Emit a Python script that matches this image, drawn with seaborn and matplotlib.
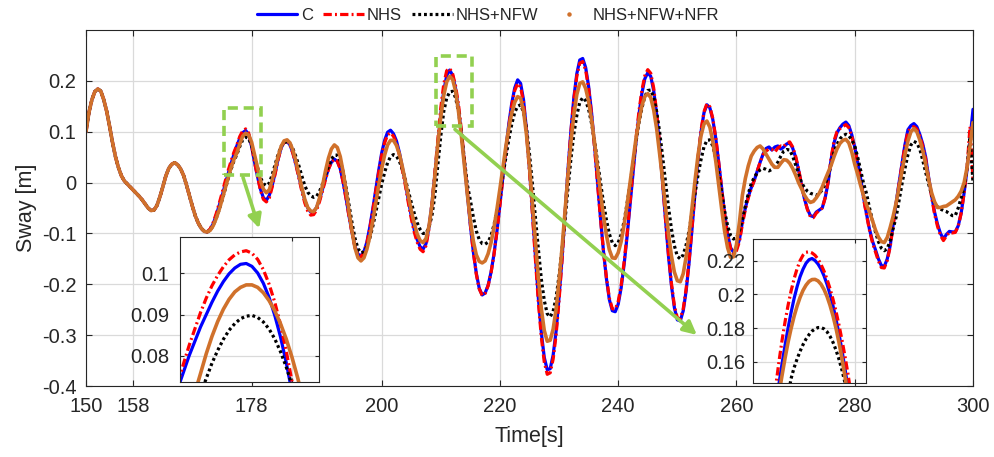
import numpy as np
import matplotlib
matplotlib.use("Agg")
import matplotlib.pyplot as plt
import seaborn as sns
from matplotlib.lines import Line2D
from matplotlib.patches import Rectangle

# ---------------- data ----------------
time_s = np.arange(150.0, 300.25, 0.5)   # sampling instants, 0.5 s

sway_c = [
    0.100, 0.138, 0.163, 0.179, 0.184, 0.180, 0.163, 0.140, 0.110, 0.078,
    0.050, 0.029, 0.013, 0.003, -0.003, -0.009, -0.015, -0.021, -0.027, -0.034,
    -0.042, -0.050, -0.055, -0.054, -0.045, -0.028, -0.008, 0.013, 0.028, 0.036,
    0.039, 0.035, 0.027, 0.014, -0.005, -0.026, -0.047, -0.066, -0.080, -0.090,
    -0.096, -0.097, -0.092, -0.081, -0.065, -0.046, -0.027, -0.005, 0.016, 0.036,
    0.055, 0.072, 0.087, 0.098, 0.1024, 0.0944, 0.0713, 0.0405, 0.012, -0.013,
    -0.030, -0.035, -0.025, -0.005, 0.020, 0.047, 0.068, 0.080, 0.081, 0.074,
    0.058, 0.036, 0.012, -0.013, -0.035, -0.050, -0.058, -0.057, -0.049, -0.033,
    -0.013, 0.008, 0.027, 0.040, 0.046, 0.042, 0.027, 0.000, -0.032, -0.067,
    -0.099, -0.126, -0.141, -0.144, -0.136, -0.117, -0.087, -0.052, -0.014, 0.024,
    0.058, 0.083, 0.099, 0.103, 0.096, 0.082, 0.059, 0.030, 0.000, -0.034,
    -0.065, -0.092, -0.112, -0.126, -0.131, -0.120, -0.088, -0.042, 0.017, 0.078,
    0.135, 0.180, 0.2105, 0.2213, 0.211, 0.185, 0.144, 0.095, 0.037, -0.024,
    -0.084, -0.136, -0.178, -0.208, -0.221, -0.217, -0.202, -0.176, -0.140, -0.095,
    -0.043, 0.012, 0.066, 0.115, 0.156, 0.186, 0.202, 0.195, 0.162, 0.102,
    0.026, -0.057, -0.144, -0.227, -0.295, -0.344, -0.368, -0.366, -0.339, -0.292,
    -0.225, -0.149, -0.063, 0.024, 0.101, 0.167, 0.214, 0.241, 0.244, 0.226,
    0.189, 0.137, 0.072, 0.002, -0.069, -0.134, -0.188, -0.230, -0.252, -0.254,
    -0.239, -0.207, -0.161, -0.106, -0.044, 0.019, 0.079, 0.133, 0.175, 0.204,
    0.216, 0.209, 0.181, 0.134, 0.072, 0.000, -0.073, -0.144, -0.202, -0.246,
    -0.270, -0.272, -0.252, -0.212, -0.156, -0.089, -0.019, 0.046, 0.099, 0.137,
    0.153, 0.147, 0.124, 0.087, 0.039, -0.012, -0.062, -0.101, -0.128, -0.137,
    -0.130, -0.112, -0.078, -0.050, -0.028, -0.010, 0.004, 0.022, 0.040, 0.056,
    0.067, 0.070, 0.064, 0.070, 0.072, 0.066, 0.070, 0.076, 0.078, 0.068,
    0.050, 0.025, -0.005, -0.032, -0.052, -0.065, -0.067, -0.058, -0.054, -0.050,
    -0.030, 0.000, 0.045, 0.078, 0.098, 0.108, 0.115, 0.119, 0.112, 0.094,
    0.070, 0.040, 0.008, -0.030, -0.062, -0.092, -0.115, -0.132, -0.150, -0.163,
    -0.165, -0.150, -0.124, -0.082, -0.040, 0.000, 0.038, 0.075, 0.104, 0.112,
    0.116, 0.110, 0.095, 0.076, 0.050, 0.010, -0.025, -0.058, -0.082, -0.100,
    -0.111, -0.102, -0.096, -0.097, -0.097, -0.085, -0.060, -0.020, 0.026, 0.085,
    0.144,
]

sway_nhs = [
    0.100, 0.138, 0.163, 0.179, 0.184, 0.180, 0.163, 0.140, 0.110, 0.078,
    0.050, 0.029, 0.013, 0.003, -0.003, -0.009, -0.015, -0.021, -0.027, -0.034,
    -0.042, -0.050, -0.055, -0.054, -0.045, -0.028, -0.008, 0.013, 0.028, 0.036,
    0.039, 0.035, 0.027, 0.014, -0.005, -0.026, -0.047, -0.066, -0.080, -0.090,
    -0.096, -0.097, -0.091, -0.079, -0.062, -0.042, -0.021, 0.001, 0.022, 0.041,
    0.059, 0.0735, 0.0905, 0.1016, 0.1055, 0.0974, 0.0739, 0.0405, 0.013, -0.015,
    -0.033, -0.038, -0.030, -0.008, 0.018, 0.046, 0.068, 0.080, 0.081, 0.074,
    0.057, 0.035, 0.009, -0.017, -0.040, -0.056, -0.064, -0.063, -0.054, -0.037,
    -0.016, 0.006, 0.026, 0.040, 0.046, 0.042, 0.027, 0.000, -0.033, -0.068,
    -0.100, -0.128, -0.143, -0.146, -0.138, -0.119, -0.090, -0.055, -0.018, 0.020,
    0.053, 0.078, 0.094, 0.098, 0.091, 0.077, 0.054, 0.025, -0.005, -0.039,
    -0.070, -0.097, -0.117, -0.131, -0.136, -0.124, -0.091, -0.042, 0.020, 0.084,
    0.147, 0.1935, 0.220, 0.2246, 0.2138, 0.1898, 0.1526, 0.101, 0.043, -0.020,
    -0.082, -0.136, -0.180, -0.209, -0.222, -0.218, -0.203, -0.177, -0.141, -0.096,
    -0.044, 0.010, 0.063, 0.111, 0.151, 0.181, 0.195, 0.188, 0.156, 0.097,
    0.021, -0.063, -0.151, -0.235, -0.304, -0.353, -0.377, -0.374, -0.347, -0.299,
    -0.231, -0.153, -0.066, 0.022, 0.099, 0.163, 0.209, 0.235, 0.238, 0.221,
    0.185, 0.133, 0.069, 0.000, -0.070, -0.133, -0.186, -0.227, -0.248, -0.249,
    -0.234, -0.202, -0.156, -0.101, -0.039, 0.025, 0.085, 0.139, 0.181, 0.210,
    0.222, 0.215, 0.186, 0.139, 0.076, 0.003, -0.071, -0.140, -0.198, -0.242,
    -0.266, -0.268, -0.248, -0.208, -0.152, -0.086, -0.016, 0.049, 0.102, 0.139,
    0.155, 0.149, 0.126, 0.088, 0.039, -0.013, -0.063, -0.103, -0.130, -0.140,
    -0.134, -0.116, -0.082, -0.053, -0.030, -0.012, 0.004, 0.022, 0.040, 0.055,
    0.062, 0.066, 0.065, 0.060, 0.068, 0.072, 0.071, 0.078, 0.080, 0.070,
    0.052, 0.027, -0.004, -0.032, -0.053, -0.067, -0.069, -0.060, -0.055, -0.050,
    -0.030, 0.002, 0.048, 0.082, 0.100, 0.106, 0.110, 0.114, 0.108, 0.091,
    0.068, 0.038, 0.006, -0.032, -0.064, -0.094, -0.118, -0.136, -0.154, -0.167,
    -0.168, -0.153, -0.126, -0.084, -0.042, -0.002, 0.036, 0.072, 0.100, 0.107,
    0.110, 0.105, 0.091, 0.072, 0.046, 0.007, -0.028, -0.062, -0.086, -0.104,
    -0.114, -0.105, -0.098, -0.099, -0.098, -0.086, -0.060, -0.020, 0.030, 0.110,
    0.005,
]

sway_nhs_nfw = [
    0.100, 0.138, 0.163, 0.179, 0.184, 0.180, 0.163, 0.140, 0.110, 0.078,
    0.050, 0.029, 0.013, 0.003, -0.003, -0.009, -0.015, -0.021, -0.027, -0.034,
    -0.042, -0.050, -0.055, -0.054, -0.045, -0.028, -0.008, 0.013, 0.028, 0.036,
    0.039, 0.035, 0.027, 0.014, -0.005, -0.026, -0.047, -0.066, -0.080, -0.090,
    -0.096, -0.097, -0.094, -0.085, -0.071, -0.054, -0.035, -0.015, 0.006, 0.025,
    0.042, 0.055, 0.0708, 0.084, 0.0896, 0.0865, 0.073, 0.050, 0.030, 0.010,
    -0.002, -0.006, -0.001, 0.016, 0.036, 0.056, 0.071, 0.079, 0.080, 0.076,
    0.066, 0.051, 0.033, 0.013, -0.006, -0.019, -0.026, -0.029, -0.027, -0.017,
    -0.003, 0.015, 0.031, 0.046, 0.054, 0.054, 0.043, 0.020, -0.011, -0.046,
    -0.080, -0.110, -0.130, -0.138, -0.136, -0.126, -0.109, -0.086, -0.059, -0.031,
    -0.003, 0.020, 0.039, 0.051, 0.055, 0.052, 0.042, 0.026, 0.006, -0.016,
    -0.039, -0.060, -0.079, -0.092, -0.100, -0.100, -0.088, -0.065, -0.025, 0.035,
    0.092, 0.140, 0.1662, 0.1782, 0.1795, 0.1669, 0.1392, 0.095, 0.043, -0.005,
    -0.035, -0.068, -0.095, -0.112, -0.120, -0.121, -0.117, -0.104, -0.083, -0.055,
    -0.022, 0.014, 0.050, 0.085, 0.115, 0.138, 0.150, 0.153, 0.138, 0.106,
    0.056, -0.004, -0.069, -0.131, -0.190, -0.232, -0.258, -0.264, -0.253, -0.226,
    -0.183, -0.131, -0.074, -0.012, 0.046, 0.096, 0.132, 0.158, 0.167, 0.161,
    0.144, 0.116, 0.082, 0.042, 0.001, -0.039, -0.073, -0.101, -0.118, -0.124,
    -0.118, -0.102, -0.076, -0.041, -0.004, 0.038, 0.079, 0.117, 0.146, 0.169,
    0.181, 0.182, 0.168, 0.139, 0.100, 0.052, 0.001, -0.048, -0.091, -0.124,
    -0.145, -0.150, -0.142, -0.122, -0.094, -0.058, -0.021, 0.015, 0.045, 0.070,
    0.083, 0.084, 0.072, 0.048, 0.016, -0.020, -0.056, -0.085, -0.104, -0.111,
    -0.108, -0.095, -0.072, -0.046, -0.022, -0.002, 0.010, 0.019, 0.025, 0.028,
    0.026, 0.023, 0.026, 0.032, 0.040, 0.052, 0.062, 0.065, 0.064, 0.052,
    0.035, 0.017, 0.000, -0.010, -0.017, -0.021, -0.023, -0.025, -0.022, -0.014,
    -0.003, 0.012, 0.035, 0.060, 0.075, 0.086, 0.092, 0.095, 0.092, 0.084,
    0.072, 0.050, 0.024, -0.002, -0.022, -0.050, -0.075, -0.097, -0.116, -0.129,
    -0.134, -0.130, -0.114, -0.090, -0.068, -0.035, -0.002, 0.028, 0.055, 0.074,
    0.081, 0.078, 0.066, 0.044, 0.020, -0.003, -0.024, -0.040, -0.048, -0.052,
    -0.055, -0.057, -0.061, -0.065, -0.065, -0.050, -0.030, -0.010, 0.030, 0.090,
    0.000,
]

sway_nhs_nfw_nfr = [
    0.100, 0.138, 0.163, 0.179, 0.184, 0.180, 0.163, 0.140, 0.110, 0.078,
    0.050, 0.029, 0.013, 0.003, -0.003, -0.009, -0.015, -0.021, -0.027, -0.034,
    -0.042, -0.050, -0.055, -0.054, -0.045, -0.028, -0.008, 0.013, 0.028, 0.036,
    0.039, 0.035, 0.027, 0.014, -0.005, -0.026, -0.047, -0.066, -0.080, -0.090,
    -0.096, -0.097, -0.094, -0.085, -0.071, -0.054, -0.034, -0.013, 0.008, 0.028,
    0.045, 0.058, 0.0757, 0.0913, 0.0972, 0.0934, 0.0797, 0.055, 0.030, 0.004,
    -0.013, -0.020, -0.014, 0.005, 0.028, 0.052, 0.071, 0.082, 0.084, 0.078,
    0.063, 0.042, 0.016, -0.010, -0.033, -0.049, -0.056, -0.057, -0.049, -0.030,
    -0.006, 0.023, 0.048, 0.066, 0.074, 0.069, 0.051, 0.020, -0.017, -0.058,
    -0.097, -0.129, -0.148, -0.154, -0.148, -0.131, -0.106, -0.075, -0.040, -0.005,
    0.027, 0.054, 0.074, 0.083, 0.083, 0.073, 0.056, 0.031, 0.003, -0.026,
    -0.055, -0.080, -0.101, -0.114, -0.118, -0.110, -0.086, -0.045, 0.013, 0.076,
    0.130, 0.1716, 0.1982, 0.2088, 0.2029, 0.1798, 0.1394, 0.089, 0.032, -0.024,
    -0.075, -0.115, -0.142, -0.155, -0.158, -0.154, -0.140, -0.118, -0.088, -0.052,
    -0.012, 0.030, 0.071, 0.107, 0.137, 0.158, 0.169, 0.166, 0.140, 0.093,
    0.031, -0.042, -0.117, -0.188, -0.248, -0.291, -0.312, -0.310, -0.288, -0.249,
    -0.193, -0.129, -0.058, 0.014, 0.079, 0.134, 0.173, 0.195, 0.198, 0.185,
    0.160, 0.123, 0.079, 0.029, -0.020, -0.065, -0.103, -0.132, -0.148, -0.149,
    -0.138, -0.116, -0.083, -0.044, -0.001, 0.043, 0.086, 0.121, 0.151, 0.169,
    0.175, 0.167, 0.143, 0.106, 0.057, 0.006, -0.049, -0.100, -0.144, -0.176,
    -0.193, -0.195, -0.179, -0.145, -0.101, -0.048, 0.005, 0.054, 0.092, 0.115,
    0.121, 0.109, 0.081, 0.042, -0.005, -0.052, -0.096, -0.128, -0.147, -0.146,
    -0.122, -0.078, -0.025, 0.008, 0.033, 0.052, 0.062, 0.069, 0.072, 0.066,
    0.056, 0.046, 0.036, 0.030, 0.030, 0.038, 0.045, 0.044, 0.038, 0.028,
    0.015, 0.000, -0.012, -0.025, -0.034, -0.039, -0.037, -0.030, -0.021, -0.009,
    0.006, 0.020, 0.034, 0.051, 0.066, 0.077, 0.083, 0.085, 0.078, 0.060,
    0.036, 0.016, -0.006, -0.026, -0.044, -0.058, -0.075, -0.093, -0.107, -0.116,
    -0.118, -0.108, -0.088, -0.066, -0.040, -0.008, 0.025, 0.055, 0.082, 0.100,
    0.106, 0.100, 0.084, 0.063, 0.036, 0.006, -0.020, -0.038, -0.049, -0.049,
    -0.047, -0.046, -0.042, -0.038, -0.034, -0.027, -0.017, 0.000, 0.030, 0.072,
    0.118,
]

# zoomed views, 0.125 s sampling
zoom1_time = np.arange(175.5, 178.76, 0.125)
zoom1_c = [0.072, 0.076, 0.080, 0.0835, 0.087, 0.090, 0.093, 0.0957, 0.098, 0.0999,
           0.1013, 0.1022, 0.1024, 0.1017, 0.1001, 0.0976, 0.0942, 0.0898, 0.0846, 0.0784,
           0.0713, 0.0645, 0.0572, 0.0490, 0.0405, 0.0315, 0.0225]
zoom1_nhs = [0.0735, 0.078, 0.0825, 0.0865, 0.0905, 0.094, 0.097, 0.0995, 0.1016, 0.1033,
             0.1045, 0.1052, 0.1055, 0.1049, 0.1034, 0.1009, 0.0974, 0.0930, 0.0876, 0.0812,
             0.0739, 0.0660, 0.0578, 0.0492, 0.0405, 0.0318, 0.0230]
zoom1_nhs_nfw = [0.055, 0.059, 0.063, 0.067, 0.0708, 0.0745, 0.0782, 0.0813, 0.0840, 0.0862,
                 0.0878, 0.0890, 0.0896, 0.0898, 0.0893, 0.0882, 0.0865, 0.0841, 0.0810, 0.0773,
                 0.0730, 0.0679, 0.062, 0.056, 0.050, 0.043, 0.036]
zoom1_nhs_nfw_nfr = [0.058, 0.062, 0.0665, 0.071, 0.0757, 0.0805, 0.0847, 0.0883, 0.0913, 0.0937,
                     0.0955, 0.0966, 0.0972, 0.0972, 0.0966, 0.0953, 0.0934, 0.0909, 0.0878, 0.0841,
                     0.0797, 0.0747, 0.0691, 0.062, 0.055, 0.047, 0.039]

zoom2_time = np.arange(209.0, 214.01, 0.125)
zoom2_c = [0.017, 0.032, 0.048, 0.063, 0.078, 0.093, 0.108, 0.1218, 0.135, 0.1473,
           0.159, 0.1698, 0.180, 0.1892, 0.1975, 0.2045, 0.2105, 0.215, 0.2185, 0.2206,
           0.2213, 0.2201, 0.2180, 0.2150, 0.2110, 0.2060, 0.2000, 0.1931, 0.1852, 0.1764,
           0.1666, 0.1558, 0.1440, 0.133, 0.121, 0.108, 0.095, 0.081, 0.067, 0.052, 0.037]
zoom2_nhs = [0.020, 0.036, 0.052, 0.068, 0.084, 0.100, 0.116, 0.1318, 0.147, 0.1605,
             0.1728, 0.1838, 0.1935, 0.2020, 0.2092, 0.2152, 0.2200, 0.2233, 0.2250, 0.2253,
             0.2246, 0.2232, 0.2209, 0.2177, 0.2138, 0.2090, 0.2034, 0.1970, 0.1898, 0.1817,
             0.1728, 0.1631, 0.1526, 0.141, 0.128, 0.115, 0.101, 0.087, 0.073, 0.058, 0.043]
zoom2_nhs_nfw = [-0.025, -0.010, 0.005, 0.020, 0.035, 0.050, 0.065, 0.079, 0.092, 0.105,
                 0.118, 0.129, 0.140, 0.1500, 0.1564, 0.1616, 0.1662, 0.1702, 0.1735, 0.1761,
                 0.1782, 0.1795, 0.1803, 0.1803, 0.1795, 0.1778, 0.1751, 0.1715, 0.1669, 0.1614,
                 0.1549, 0.1475, 0.1392, 0.129, 0.118, 0.107, 0.095, 0.083, 0.070, 0.057, 0.043]
zoom2_nhs_nfw_nfr = [0.013, 0.029, 0.045, 0.061, 0.076, 0.091, 0.105, 0.118, 0.130, 0.1415,
                     0.152, 0.1622, 0.1716, 0.1797, 0.1869, 0.1930, 0.1982, 0.2024, 0.2055, 0.2077,
                     0.2088, 0.2089, 0.2080, 0.2060, 0.2029, 0.1988, 0.1935, 0.1872, 0.1798, 0.1713,
                     0.1618, 0.1511, 0.1394, 0.127, 0.115, 0.102, 0.089, 0.075, 0.061, 0.047, 0.032]

series_labels = ["C", "NHS", "NHS+NFW", "NHS+NFW+NFR"]
x_ticks = [150, 158, 178, 200, 220, 240, 260, 280, 300]
y_ticks = [-0.4, -0.3, -0.2, -0.1, 0.0, 0.1, 0.2]
y_tick_labels = ["-0.4", "-0.3", "-0.2", "-0.1", "0", "0.1", "0.2"]
zoom1_yticks = [0.08, 0.09, 0.1]
zoom1_yticklabels = ["0.08", "0.09", "0.1"]
zoom2_yticks = [0.16, 0.18, 0.2, 0.22]
zoom2_yticklabels = ["0.16", "0.18", "0.2", "0.22"]

# ---------------- style ----------------
sns.set_style("white")
plt.rcParams["font.family"] = ["Liberation Sans", "DejaVu Sans"]
plt.rcParams["axes.unicode_minus"] = False

ORANGE = "#d0712b"
GREEN = "#92d050"
TXT = "#262626"
styles = [
    dict(color="#0000ff", lw=2.3, dashes=None),
    dict(color="#ff0000", lw=2.3, dashes=(2.6, 1.0, 0.6, 1.0)),
    dict(color="#000000", lw=2.3, dashes=(0.9, 0.9)),
    dict(color=ORANGE, lw=2.6, dashes=None),
]


def draw_series(ax, t, ys):
    for y, st in zip(ys, styles):
        sns.lineplot(x=t, y=y, ax=ax, color=st["color"], linewidth=st["lw"],
                     legend=False, estimator=None, sort=False)
        line = ax.lines[-1]
        line.set_solid_joinstyle("round")
        if st["dashes"] is not None:
            line.set_dashes(st["dashes"])


def frame(ax, tick_len):
    for s in ax.spines.values():
        s.set_visible(True)
        s.set_color(TXT)
        s.set_linewidth(0.8)
    ax.grid(True, color="#dadada", linewidth=0.9)
    ax.set_axisbelow(True)
    ax.tick_params(direction="in", length=tick_len, width=0.8, top=True, right=True,
                   bottom=True, left=True, color=TXT, labelcolor=TXT, labelsize=14.5)
    ax.set_xlabel("")
    ax.set_ylabel("")


fig = plt.figure(figsize=(9.95, 4.57), dpi=100)
ax = fig.add_axes([86 / 995, 1 - 386 / 457, 887 / 995, 356 / 457])

draw_series(ax, time_s, [sway_c, sway_nhs, sway_nhs_nfw, sway_nhs_nfw_nfr])
frame(ax, 4)
ax.set_xlim(150, 300)
ax.set_ylim(-0.4, 0.3)
ax.set_xticks(x_ticks)
ax.set_xticklabels([str(v) for v in x_ticks])
ax.set_yticks(y_ticks)
ax.set_yticklabels(y_tick_labels)
ax.tick_params(axis="x", pad=8)
ax.tick_params(axis="y", pad=7)
ax.set_xlabel("Time[s]", fontsize=15.5, color=TXT, labelpad=7)
ax.set_ylabel("Sway [m]", fontsize=15.5, color=TXT, labelpad=3)

# zoom boxes and arrows
for (x0, x1, y0, y1) in [(173.34, 179.6, 0.0143, 0.1476), (209.14, 215.2, 0.111, 0.2496)]:
    ax.add_patch(Rectangle((x0, y0), x1 - x0, y1 - y0, fill=False, edgecolor=GREEN,
                           linewidth=2.6, linestyle=(0, (2.8, 1.6)), zorder=6))
for (xs, ys_, xe, ye) in [(176.55, 0.010, 179.3, -0.090), (212.4, 0.1045, 253.3, -0.2996)]:
    ax.annotate("", xy=(xe, ye), xytext=(xs, ys_),
                arrowprops=dict(arrowstyle="-|>", color=GREEN, lw=2.6,
                                mutation_scale=20, shrinkA=0, shrinkB=0),
                zorder=6)

# inset 1
ins1 = fig.add_axes([180 / 995, 1 - 381.7 / 457, 139.3 / 995, 145 / 457])
ins1.set_facecolor("white")
draw_series(ins1, zoom1_time, [zoom1_c, zoom1_nhs, zoom1_nhs_nfw, zoom1_nhs_nfw_nfr])
frame(ins1, 3)
ins1.set_xlim(175.55, 178.6)
ins1.set_ylim(0.0737, 0.1089)
ins1.set_xticks([178])
ins1.set_xticklabels([])
ins1.set_yticks(zoom1_yticks)
ins1.set_yticklabels(zoom1_yticklabels)
ins1.tick_params(axis="y", pad=8)

# inset 2
ins2 = fig.add_axes([753.3 / 995, 1 - 383.3 / 457, 112.7 / 995, 144 / 457])
ins2.set_facecolor("white")
draw_series(ins2, zoom2_time, [zoom2_c, zoom2_nhs, zoom2_nhs_nfw, zoom2_nhs_nfw_nfr])
frame(ins2, 3)
ins2.set_xlim(209.05, 213.75)
ins2.set_ylim(0.1472, 0.2327)
ins2.set_xticks([213.3])
ins2.set_xticklabels([])
ins2.set_yticks(zoom2_yticks)
ins2.set_yticklabels(zoom2_yticklabels)
ins2.tick_params(axis="y", pad=6)

# legend
handles = [
    Line2D([], [], color=styles[0]["color"], lw=2.3),
    Line2D([], [], color=styles[1]["color"], lw=2.3, dashes=styles[1]["dashes"]),
    Line2D([], [], color=styles[2]["color"], lw=2.3, dashes=styles[2]["dashes"]),
    Line2D([], [], color=ORANGE, marker="o", markersize=2.2, linestyle="none"),
]
fig.legend(handles, series_labels, ncol=4, frameon=False, fontsize=12,
           handlelength=2.45, handletextpad=0.2, columnspacing=0.6,
           loc="center", bbox_to_anchor=(488 / 995, 1 - 15 / 457),
           labelcolor=TXT)

fig.savefig("out.png", dpi=100)
